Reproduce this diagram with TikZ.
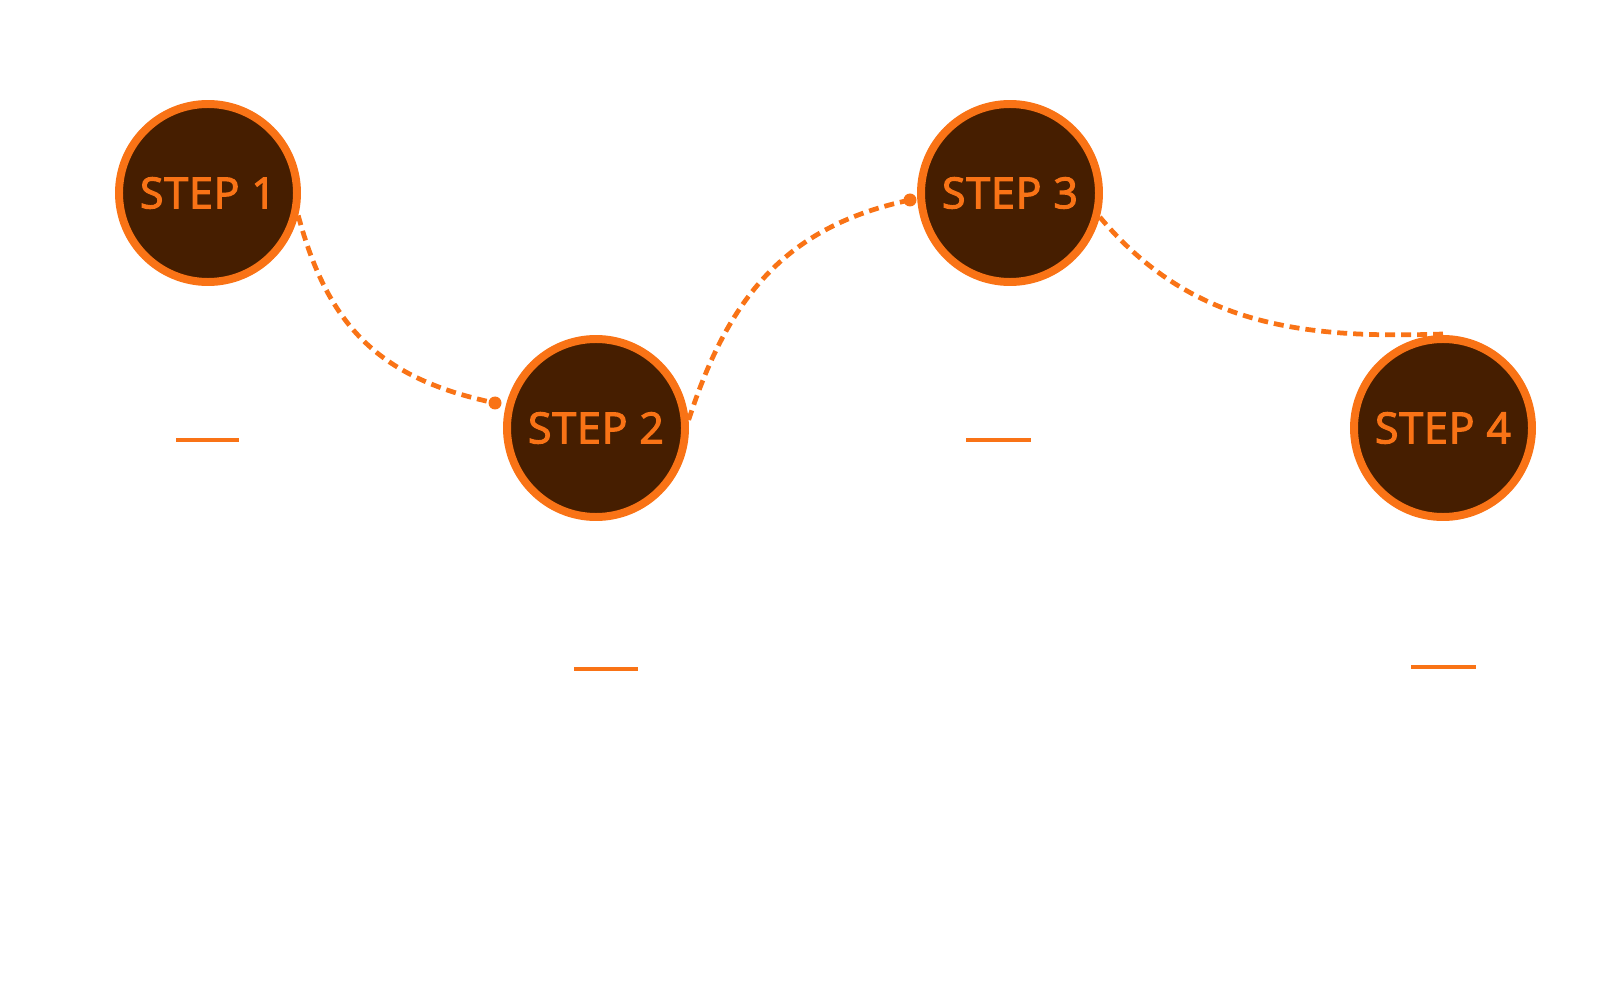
\documentclass[tikz,border=0pt]{standalone}
\usepackage{fontspec}
\setmainfont{Open Sans}
\newfontfamily\stepfont{Open Sans}[FakeBold=2.6,LetterSpace=2]
\definecolor{steporange}{HTML}{F97316}
\definecolor{stepfill}{HTML}{461E00}

\begin{document}
\begin{tikzpicture}[x=0.1mm,y=0.1mm,
    stepnode/.style={circle,draw=steporange,fill=stepfill,line width=2.27pt,
      minimum size=17.8mm,inner sep=0pt,text=steporange,
      font=\stepfont\fontsize{12.2}{14}\selectfont},
    dotnode/.style={circle,fill=steporange,minimum size=1.3mm,inner sep=0pt},
    link/.style={steporange,line width=1.35pt,dash pattern=on 1mm off 0.6mm},
    bar/.style={steporange,line width=1.1pt}]
  \useasboundingbox (0,0) rectangle (1600,1000);
  \draw[link] (208,807) ++(-14:93) to[out=-75,in=168,looseness=1.1] (495,597);
  \draw[link] (596,572) ++(5:93) to[out=72,in=192,looseness=1.05] (910,800);
  \draw[link] (1010,807) ++(-15:93) to[out=-50,in=182] (1443,666);
  \node[stepnode] (s1) at (208,807) {STEP 1};
  \node[stepnode] (s2) at (596,572) {STEP 2};
  \node[stepnode] (s3) at (1010,807) {STEP 3};
  \node[stepnode] (s4) at (1443,572) {STEP 4};
  \node[dotnode] (d1) at (495,597) {};
  \node[dotnode] (d2) at (910,800) {};
  \draw[bar] (176,560) -- (239,560);
  \draw[bar] (574,331) -- (638,331);
  \draw[bar] (966,560) -- (1031,560);
  \draw[bar] (1411,333) -- (1476,333);
\end{tikzpicture}
\end{document}
